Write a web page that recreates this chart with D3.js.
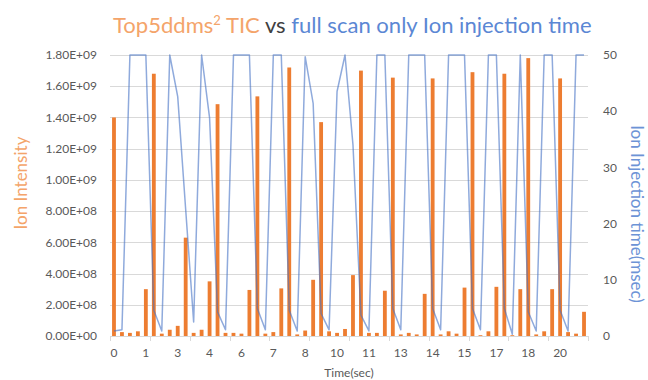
<!DOCTYPE html>
<html><head><meta charset="utf-8">
<script src="https://cdn.jsdelivr.net/npm/d3@7/dist/d3.min.js"></script>
<style>body{margin:0;background:#fff}svg{display:block}text{font-family:Lato,"Open Sans",sans-serif}</style>
</head><body><svg id="c" width="648" height="380"></svg>
<script>
const times = [0.00,0.35,0.70,1.05,1.40,1.75,2.10,2.45,2.80,3.15,3.50,3.85,4.20,4.55,4.90,5.25,5.60,5.95,6.30,6.65,7.00,7.35,7.70,8.05,8.40,8.75,9.10,9.45,9.80,10.15,10.50,10.85,11.20,11.55,11.90,12.25,12.60,12.95,13.30,13.65,14.00,14.35,14.70,15.05,15.40,15.75,16.10,16.45,16.80,17.15,17.50,17.85,18.20,18.55,18.90,19.25,19.60,19.95,20.30,20.65];
const ticValues = [1.40e9,0.025e9,0.02e9,0.03e9,0.30e9,1.68e9,0.015e9,0.04e9,0.065e9,0.63e9,
  0.02e9,0.04e9,0.35e9,1.485e9,0.02e9,0.02e9,0.015e9,0.295e9,1.535e9,0.015e9,
  0.025e9,0.305e9,1.72e9,0.01e9,0.035e9,0.36e9,1.37e9,0.03e9,0.02e9,0.045e9,
  0.39e9,1.70e9,0.02e9,0.02e9,0.29e9,1.655e9,0.01e9,0.02e9,0.01e9,0.27e9,
  1.65e9,0.01e9,0.03e9,0.015e9,0.31e9,1.69e9,0.005e9,0.03e9,0.315e9,1.68e9,
  0.005e9,0.30e9,1.78e9,0.01e9,0.03e9,0.30e9,1.65e9,0.025e9,0.015e9,0.155e9];
const injectionTime = [0.9,1.1,50,50,50,4.6,0.9,50,42.6,22.5,
  2.5,50,38.8,4.3,1.1,50,50,50,4.9,1.1,
  50,50,4.6,0.9,49.7,41.4,4.0,1.1,43.5,50,
  34,3.7,0.9,50,50,4.9,1.1,50,50,50,
  4.9,1.1,50,50,50,4.9,1.1,50,50,4.9,
  0.3,50,4.3,0.9,50,50,4.6,0.9,50,50];
const leftTicks = [0,2e8,4e8,6e8,8e8,1e9,1.2e9,1.4e9,1.6e9,1.8e9];
const rightTicks = [0,10,20,30,40,50];
const labelEvery = 4, tickEvery = 5;

const svg = d3.select("#c");
const L = 110, R = 588, T = 55, B = 336;
const x = d3.scaleBand().domain(times).range([L, R]).padding(0);
const yL = d3.scaleLinear().domain([0, 1.8e9]).range([B, T]);
const yR = d3.scaleLinear().domain([0, 50]).range([B, T]);

// gridlines
svg.append("g").selectAll("line").data(leftTicks.slice(1)).join("line")
  .attr("x1", L).attr("x2", R).attr("y1", d => Math.round(yL(d)) + 0.5).attr("y2", d => Math.round(yL(d)) + 0.5)
  .attr("stroke", "#d9d9d9").attr("stroke-width", 1);

// x axis line and ticks
svg.append("line").attr("x1", L).attr("x2", R).attr("y1", B + 0.5).attr("y2", B + 0.5).attr("stroke", "#d9d9d9");
const tickPos = times.filter((d, i) => i % tickEvery === 0).map(d => x(d)).concat([x.range()[1]]);
svg.append("g").selectAll("line").data(tickPos).join("line")
  .attr("x1", d => Math.round(d) + 0.5).attr("x2", d => Math.round(d) + 0.5).attr("y1", B).attr("y2", B + 5)
  .attr("stroke", "#d9d9d9");

// bars
const bw = x.bandwidth() * 0.48;
svg.append("g").selectAll("rect").data(ticValues).join("rect")
  .attr("x", (d, i) => x(times[i]) + x.bandwidth() / 2 - bw / 2)
  .attr("width", bw)
  .attr("y", d => yL(d)).attr("height", d => B - yL(d))
  .attr("fill", "#ed7d31");

// line
const line = d3.line().x((d, i) => x(times[i]) + x.bandwidth() / 2).y(d => yR(d));
svg.append("path").datum(injectionTime).attr("d", line)
  .attr("fill", "none").attr("stroke", "#4472c4").attr("stroke-opacity", 0.6).attr("stroke-width", 1.5)
  .attr("stroke-linejoin", "round");

// left axis labels
const fmtE = d => { const s = d3.format(".2e")(d); const [m, e] = s.split("e"); const ex = parseInt(e); return m + "E" + (ex < 0 ? "-" : "+") + String(Math.abs(ex)).padStart(2, "0"); };
svg.append("g").selectAll("text").data(leftTicks).join("text")
  .attr("x", 97).attr("y", d => yL(d)).attr("dy", "0.35em").attr("text-anchor", "end")
  .attr("font-size", 12).attr("fill", "#595959").text(fmtE);

// right axis labels
svg.append("g").selectAll("text").data(rightTicks).join("text")
  .attr("x", 603).attr("y", d => yR(d)).attr("dy", "0.35em").attr("text-anchor", "start")
  .attr("font-size", 12).attr("fill", "#595959").text(d => d);

// x labels
svg.append("g").selectAll("text").data(times.filter((d, i) => i % labelEvery === 0)).join("text")
  .attr("x", d => x(d) + x.bandwidth() / 2).attr("y", 353).attr("dy", "0.35em").attr("text-anchor", "middle")
  .attr("font-size", 12).attr("fill", "#595959").text(d => d3.format(".0f")(d));

svg.append("text").attr("x", 349).attr("y", 373).attr("dy", "0.35em").attr("text-anchor", "middle")
  .attr("font-size", 12).attr("fill", "#595959").text("Time(sec)");

// axis titles
svg.append("text").attr("transform", "translate(21,183) rotate(-90)").attr("text-anchor", "middle").attr("dy", "0.35em")
  .attr("font-size", 17).attr("fill", "#f4a46a").text("Ion Intensity");
svg.append("text").attr("transform", "translate(637,214) rotate(90)").attr("text-anchor", "middle").attr("dy", "0.35em")
  .attr("font-size", 17).attr("fill", "#6d93d6").text("Ion Injection time(msec)");

// title
const title = svg.append("text").attr("x", 113).attr("y", 33).attr("font-size", 21);
title.append("tspan").attr("fill", "#f4a46a").text("Top5ddms");
title.append("tspan").attr("fill", "#f4a46a").attr("font-size", 13).attr("dy", -8).text("2");
title.append("tspan").attr("fill", "#f4a46a").attr("dy", 8).text(" TIC ");
title.append("tspan").attr("fill", "#404040").text("vs ");
title.append("tspan").attr("fill", "#5b87d4").text("full scan only Ion injection time");
const w = title.node().getComputedTextLength();
const target = 479;
if (w > 0) { const fs = 21 * target / w; title.attr("font-size", Math.min(24, Math.max(18, fs))); }
</script></body></html>
